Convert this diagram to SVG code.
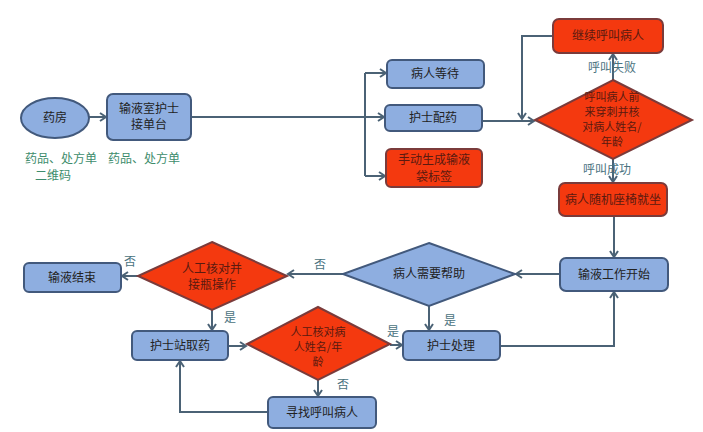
<svg xmlns="http://www.w3.org/2000/svg" width="703" height="432" viewBox="0 0 703 432">
<defs>
<marker id="ah" markerWidth="10" markerHeight="10" refX="8" refY="5" orient="auto" markerUnits="userSpaceOnUse">
<polyline points="2,1 8,5 2,9" fill="none" stroke="#4b6275" stroke-width="2"/>
</marker>
<style>
.blue{fill:#8eaee0;stroke:#42597c;stroke-width:2}
.red{fill:#f4390f;stroke:#7a3b3b;stroke-width:2}
.t{font-family:"Noto Sans CJK SC","Noto Sans",sans-serif;font-size:12px;fill:#222;text-anchor:middle}
.tr{font-family:"Noto Sans CJK SC","Noto Sans",sans-serif;font-size:12px;fill:#5a1a10;text-anchor:middle}
.td{font-family:"Noto Sans CJK SC","Noto Sans",sans-serif;font-size:11px;fill:#5a1a10;text-anchor:middle}
.lb{font-family:"Noto Sans CJK SC","Noto Sans",sans-serif;font-size:12px;fill:#4a7280;text-anchor:middle}
.gr{font-family:"Noto Sans CJK SC","Noto Sans",sans-serif;font-size:12px;fill:#3d8c6c;text-anchor:middle}
.c{fill:none;stroke:#4b6275;stroke-width:2}
</style>
</defs>
<rect width="703" height="432" fill="#ffffff"/>
<g id="connectors">
<path class="c" d="M89,117 H106" marker-end="url(#ah)"/>
<path class="c" d="M191,117 H384"/>
<path class="c" d="M365,73 V176"/>
<path class="c" d="M365,73 H386" marker-end="url(#ah)"/>
<path class="c" d="M365,176 H385" marker-end="url(#ah)"/>
<path class="c" d="M365,117 H384" marker-end="url(#ah)"/>
<path class="c" d="M482,121 H534" marker-end="url(#ah)"/>
<path class="c" d="M553,36 H522 V119" marker-end="url(#ah)"/>
<path class="c" d="M613,80 V54" marker-end="url(#ah)"/>
<path class="c" d="M613,159 V182" marker-end="url(#ah)"/>
<path class="c" d="M614,216 V257" marker-end="url(#ah)"/>
<path class="c" d="M560,274 H516" marker-end="url(#ah)"/>
<path class="c" d="M343,274 H288" marker-end="url(#ah)"/>
<path class="c" d="M138,276 H122" marker-end="url(#ah)"/>
<path class="c" d="M212,310 V330" marker-end="url(#ah)"/>
<path class="c" d="M429,306 V330" marker-end="url(#ah)"/>
<path class="c" d="M228,346 H246" marker-end="url(#ah)"/>
<path class="c" d="M390,345 H402" marker-end="url(#ah)"/>
<path class="c" d="M318,380 V396" marker-end="url(#ah)"/>
<path class="c" d="M268,412 H180 V361" marker-end="url(#ah)"/>
<path class="c" d="M500,346 H614 V292" marker-end="url(#ah)"/>
<text class="lb" x="612" y="72">呼叫失败</text>
<text class="lb" x="607" y="174">呼叫成功</text>
<text class="lb" x="320" y="269">否</text>
<text class="lb" x="130" y="266">否</text>
<text class="lb" x="230" y="322">是</text>
<text class="lb" x="450" y="325">是</text>
<text class="lb" x="393" y="336">是</text>
<text class="lb" x="343" y="389">否</text>
</g>
<g id="yaofang">
<ellipse class="blue" cx="55" cy="118" rx="34" ry="20"/>
<text class="t" x="55" y="122">药房</text>
</g>
<g id="labels">
<text class="gr" x="61" y="163">药品、处方单</text>
<text class="gr" x="53" y="180">二维码</text>
<text class="gr" x="144" y="163">药品、处方单</text>
</g>
<g id="jiedan">
<rect class="blue" x="107" y="94" width="84" height="46" rx="6"/>
<text class="t" x="149" y="113">输液室护士</text>
<text class="t" x="149" y="129">接单台</text>
</g>
<g id="dengdai">
<rect class="blue" x="387" y="60" width="97" height="28" rx="5"/>
<text class="t" x="435" y="78">病人等待</text>
</g>
<g id="peiyao">
<rect class="blue" x="385" y="105" width="97" height="26" rx="5"/>
<text class="t" x="433" y="122">护士配药</text>
</g>
<g id="biaoqian">
<rect class="red" x="386" y="149" width="96" height="38" rx="5"/>
<text class="tr" x="434" y="164">手动生成输液</text>
<text class="tr" x="434" y="181">袋标签</text>
</g>
<g id="jixu">
<rect class="red" x="553" y="19" width="110" height="34" rx="6"/>
<text class="tr" x="608" y="40">继续呼叫病人</text>
</g>
<g id="hujiao">
<polygon class="red" points="613,80 692,120 613,159 535,120"/>
<text class="td" x="612" y="101">呼叫病人前</text>
<text class="td" x="612" y="116">来穿刺并核</text>
<text class="td" x="612" y="131">对病人姓名/</text>
<text class="td" x="612" y="146">年龄</text>
</g>
<g id="jiuzuo">
<rect class="red" x="559" y="183" width="108" height="33" rx="6"/>
<text class="tr" x="613" y="204">病人随机座椅就坐</text>
</g>
<g id="kaishi">
<rect class="blue" x="560" y="258" width="108" height="33" rx="6"/>
<text class="t" x="614" y="279">输液工作开始</text>
</g>
<g id="bangzhu">
<polygon class="blue" points="429,243 515,274 429,306 343,274"/>
<text class="t" x="429" y="278">病人需要帮助</text>
</g>
<g id="huanping">
<polygon class="red" points="212,242 287,276 212,310 138,276"/>
<text class="tr" x="212" y="273">人工核对并</text>
<text class="tr" x="212" y="289">接瓶操作</text>
</g>
<g id="jieshu">
<rect class="blue" x="24" y="263" width="97" height="29" rx="5"/>
<text class="t" x="72" y="282">输液结束</text>
</g>
<g id="quyao">
<rect class="blue" x="132" y="331" width="96" height="29" rx="5"/>
<text class="t" x="180" y="350">护士站取药</text>
</g>
<g id="hedui">
<polygon class="red" points="318,307 390,344 318,380 247,344"/>
<text class="td" x="318" y="336">人工核对病</text>
<text class="td" x="318" y="351">人姓名/年</text>
<text class="td" x="318" y="366">龄</text>
</g>
<g id="chuli">
<rect class="blue" x="403" y="331" width="97" height="29" rx="5"/>
<text class="t" x="451" y="350">护士处理</text>
</g>
<g id="xunzhao">
<rect class="blue" x="268" y="397" width="108" height="31" rx="5"/>
<text class="t" x="322" y="417">寻找呼叫病人</text>
</g>
</svg>
